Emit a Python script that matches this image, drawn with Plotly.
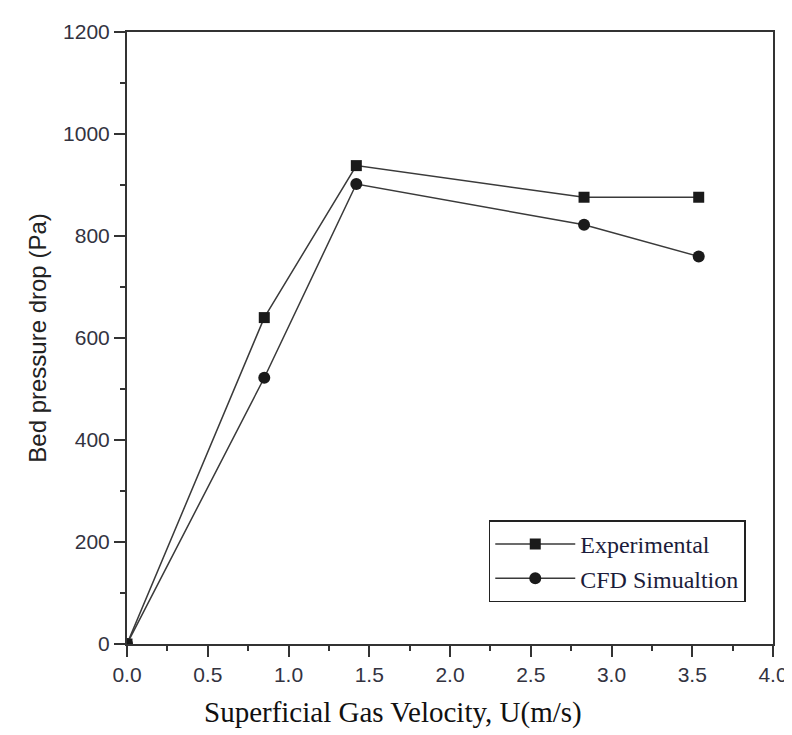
import plotly.graph_objects as go

velocity = [0.0, 0.85, 1.42, 2.83, 3.54]
experimental = [0, 640, 938, 876, 876]
cfd_simulation = [0, 522, 902, 822, 760]

x_ticks = [0.0, 0.5, 1.0, 1.5, 2.0, 2.5, 3.0, 3.5, 4.0]
x_tick_text = ["0.0", "0.5", "1.0", "1.5", "2.0", "2.5", "3.0", "3.5", "4.0"]
y_ticks = [0, 200, 400, 600, 800, 1000, 1200]

line_color = "#3a3a3a"
tick_font = dict(family="Liberation Sans, Arial, sans-serif", size=21, color="#33333f")

fig = go.Figure()
fig.add_trace(go.Scatter(
    x=velocity, y=experimental, mode="lines+markers", name="Experimental",
    line=dict(color=line_color, width=1.5),
    marker=dict(symbol="square", size=11, color="#1a1a1a"),
))
fig.add_trace(go.Scatter(
    x=velocity, y=cfd_simulation, mode="lines+markers", name="CFD Simualtion",
    line=dict(color=line_color, width=1.5),
    marker=dict(symbol="circle", size=12, color="#1a1a1a"),
))

axis_common = dict(
    showgrid=False, zeroline=False, showline=True, linecolor="#333333", linewidth=2,
    mirror=True, ticks="outside", ticklen=11, tickwidth=2, tickcolor="#333333",
    tickfont=tick_font,
)

fig.update_xaxes(
    range=[0, 4], tickvals=x_ticks, ticktext=x_tick_text,
    minor=dict(ticks="outside", ticklen=5, tickwidth=2, tickcolor="#333333", dtick=0.25, tick0=0),
    **axis_common,
)
fig.update_yaxes(
    range=[0, 1200], tickvals=y_ticks,
    minor=dict(ticks="outside", ticklen=5, tickwidth=2, tickcolor="#333333", dtick=100, tick0=0),
    title=dict(text="Bed pressure drop (Pa)",
               font=dict(family="Liberation Sans, Arial, sans-serif", size=24, color="#222222"),
               standoff=10),
    **axis_common,
)

fig.add_annotation(
    text="Superficial Gas Velocity, U(m/s)", xref="paper", yref="paper",
    x=0.412, y=-0.142, xanchor="center", yanchor="bottom", showarrow=False,
    font=dict(family="Liberation Serif, Times New Roman, serif", size=29, color="#111111"),
)

fig.update_layout(
    width=792, height=735,
    margin=dict(l=119, r=18, t=23, b=99),
    plot_bgcolor="white", paper_bgcolor="white",
    showlegend=True,
    legend=dict(
        x=0.56, y=0.202, xanchor="left", yanchor="top",
        bordercolor="#222222", borderwidth=1.5, bgcolor="white",
        font=dict(family="Liberation Serif, Times New Roman, serif", size=24, color="#1c1c3a"),
        itemwidth=80, tracegroupgap=0,
    ),
)

fig.write_html("out.html")
